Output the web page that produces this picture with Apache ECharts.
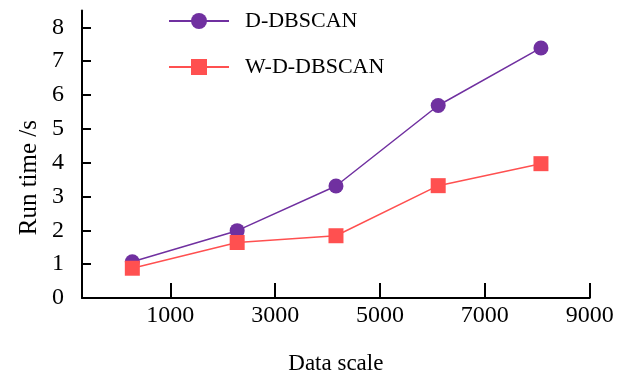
<!DOCTYPE html>
<html>
<head>
<meta charset="utf-8">
<script src="https://cdn.jsdelivr.net/npm/echarts@6/dist/echarts.min.js"></script>
<style>html,body{margin:0;padding:0;background:#fff}#c{width:629px;height:384px}</style>
</head>
<body>
<div id="c"></div>
<script>
const seriesNames = ['D-DBSCAN', 'W-D-DBSCAN'];
const dataScale = [275, 2275, 4160, 6110, 8070];
const dDbscan = [1.07, 1.99, 3.31, 5.69, 7.39];
const wdDbscan = [0.88, 1.64, 1.84, 3.32, 3.97];
const xTicks = [1000, 3000, 5000, 7000, 9000];
const yTicks = [0, 1, 2, 3, 4, 5, 6, 7, 8];

const font = 'Liberation Serif';
const chart = echarts.init(document.getElementById('c'), null, {renderer: 'canvas'});
const pair = (xs, ys) => xs.map((x, i) => [x, ys[i]]);

chart.setOption({
  animation: false,
  backgroundColor: '#fff',
  grid: {left: 82, right: 39.3, top: 10.4, bottom: 86, containLabel: false},
  legend: {
    orient: 'vertical', left: 163, top: 5,
    itemWidth: 60, itemHeight: 20, itemGap: 24,
    textStyle: {fontFamily: font, fontSize: 22, color: '#000', padding: [0, 0, 0, 11]},
    data: seriesNames
  },
  xAxis: {
    type: 'value', min: -685, max: 9000,
    name: 'Data scale', nameLocation: 'middle', nameGap: 54,
    nameTextStyle: {fontFamily: font, fontSize: 23, color: '#000'},
    axisLine: {show: true, onZero: false, lineStyle: {color: '#000', width: 2}},
    axisTick: {show: true, inside: true, length: 15, customValues: xTicks, lineStyle: {color: '#000', width: 2}},
    axisLabel: {customValues: xTicks, formatter: v => String(v), fontFamily: font, fontSize: 24, color: '#000', margin: 6},
    splitLine: {show: false}
  },
  yAxis: {
    type: 'value', min: 0, max: 8.5,
    axisLine: {show: true, onZero: false, lineStyle: {color: '#000', width: 2}},
    axisTick: {show: true, inside: true, length: 9, customValues: yTicks, lineStyle: {color: '#000', width: 2}},
    axisLabel: {customValues: yTicks, fontFamily: font, fontSize: 24, color: '#000', margin: 18},
    splitLine: {show: false}
  },
  graphic: [{
    type: 'text', left: 17, top: 120,
    rotation: Math.PI / 2,
    style: {text: 'Run time /s', fontFamily: font, fontSize: 25, fill: '#000'}
  }],
  series: [{
    name: seriesNames[0], type: 'line', data: pair(dataScale, dDbscan),
    symbol: 'circle', symbolSize: 15,
    itemStyle: {color: '#7030A0'}, lineStyle: {color: '#7030A0', width: 1.5}
  }, {
    name: seriesNames[1], type: 'line', data: pair(dataScale, wdDbscan),
    symbol: 'rect', symbolSize: 15,
    itemStyle: {color: '#FF5050'}, lineStyle: {color: '#FF5050', width: 1.5}
  }]
});
</script>
</body>
</html>
